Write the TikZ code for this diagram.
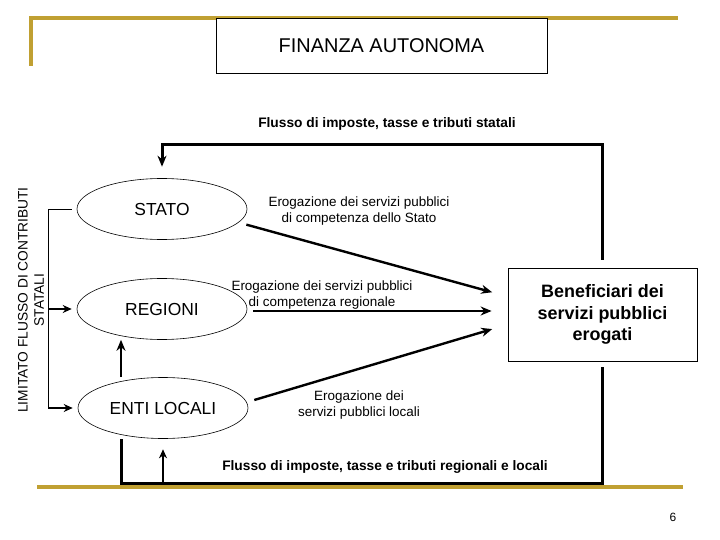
\documentclass[tikz,border=0pt]{standalone}
\usepackage{fontspec}
\setmainfont{Liberation Sans}
\usetikzlibrary{shapes.geometric, arrows.meta}

\definecolor{oro}{RGB}{192,160,50}

\begin{document}
\begin{tikzpicture}[
    x=1bp, y=-1bp,
    ente/.style={ellipse, draw, line width=0.6bp, minimum width=170bp, minimum height=61bp, inner sep=0pt, font=\fontsize{17.5}{20}\selectfont},
    riquadro/.style={draw, line width=0.8bp, fill=white, align=center},
    etichetta/.style={align=center, font=\fontsize{13.5}{16}\selectfont},
    titoletto/.style={font=\bfseries\fontsize{13.8}{16}\selectfont},
    flusso/.style={line width=3bp},
    freccia/.style={line width=2.4bp, -{Stealth[length=11bp,width=9bp]}},
    freccina/.style={line width=1.6bp, -{Stealth[length=9bp,width=8bp]}},
    filo/.style={line width=0.8bp},
    cornice/.style={oro, line width=3.5bp}
  ]
    \useasboundingbox (0,0) rectangle (720,540);

    % cornice della slide
    \draw[cornice] (31,66) |- (678,18);
    \draw[cornice] (37,487) -- (683,487);

    \node[riquadro, minimum width=331bp, minimum height=55bp, font=\fontsize{20}{22}\selectfont] (titolo) at (381.5,45.5) {FINANZA AUTONOMA};

    % livelli di governo
    \node[ente] (stato) at (162,209) {STATO};
    \node[ente] (regioni) at (162,309) {REGIONI};
    \node[ente] (enti) at (163,408) {ENTI LOCALI};

    \node[riquadro, minimum width=189bp, minimum height=93bp, font=\bfseries\fontsize{18}{21.5}\selectfont] (benef) at (602.5,314.5) {Beneficiari dei\\servizi pubblici\\erogati};

    % testi
    \node[titoletto] (flussostat) at (387,124) {Flusso di imposte, tasse e tributi statali};
    \node[titoletto] (flussoloc) at (385,467) {Flusso di imposte, tasse e tributi regionali e locali};
    \node[etichetta] (erstato) at (359,211) {Erogazione dei servizi pubblici\\di competenza dello Stato};
    \node[etichetta] (erreg) at (322,295) {Erogazione dei servizi pubblici\\di competenza regionale};
    \node[etichetta] (erenti) at (359,405) {Erogazione dei\\servizi pubblici locali};
    \node[rotate=90, align=center, font=\fontsize{13.8}{16.5}\selectfont] (limitato) at (31,300) {LIMITATO FLUSSO DI CONTRIBUTI\\STATALI};
    \node[font=\fontsize{12}{14}\selectfont] (pagina) at (673,517) {6};

    \coordinate (alto) at (381,145);
    \coordinate (basso) at (381,483);

    % flussi di imposte
    \draw[flusso, -{Stealth[length=11bp,width=9bp]}, shorten <=8bp, shorten >=11.5bp] (benef.north) |- (alto) -| (stato.north);
    \draw[flusso, shorten <=6bp] (benef.south) |- (basso) -| (enti.south -| 121,0);
    \draw[freccina, shorten >=10.5bp] (enti.south |- basso) -- (enti.south);
    \draw[freccia, line width=2bp] (enti.north -| 121,0) -- (regioni.south -| 121,0);

    % contributi statali
    \draw[filo, shorten <=5bp] (stato.west) -| (enti.west -| 48,0);
    \draw[freccina, shorten >=5bp] (regioni.west -| 48,0) -- (regioni.west);
    \draw[freccina, shorten >=5bp] (enti.west -| 48,0) -- (enti.west);

    % erogazione dei servizi
    \draw[freccia, shorten <=8bp, shorten >=16bp] (stato.-10) -- ([yshift=18bp]benef.west);
    \draw[freccia, shorten <=6bp, shorten >=16bp] ([yshift=-2bp]regioni.east) -- ([yshift=-2bp]regioni.east -| benef.west);
    \draw[freccia, shorten >=16bp] ([xshift=6bp,yshift=8bp]enti.east) -- ([yshift=-10bp]benef.west);
\end{tikzpicture}
\end{document}
